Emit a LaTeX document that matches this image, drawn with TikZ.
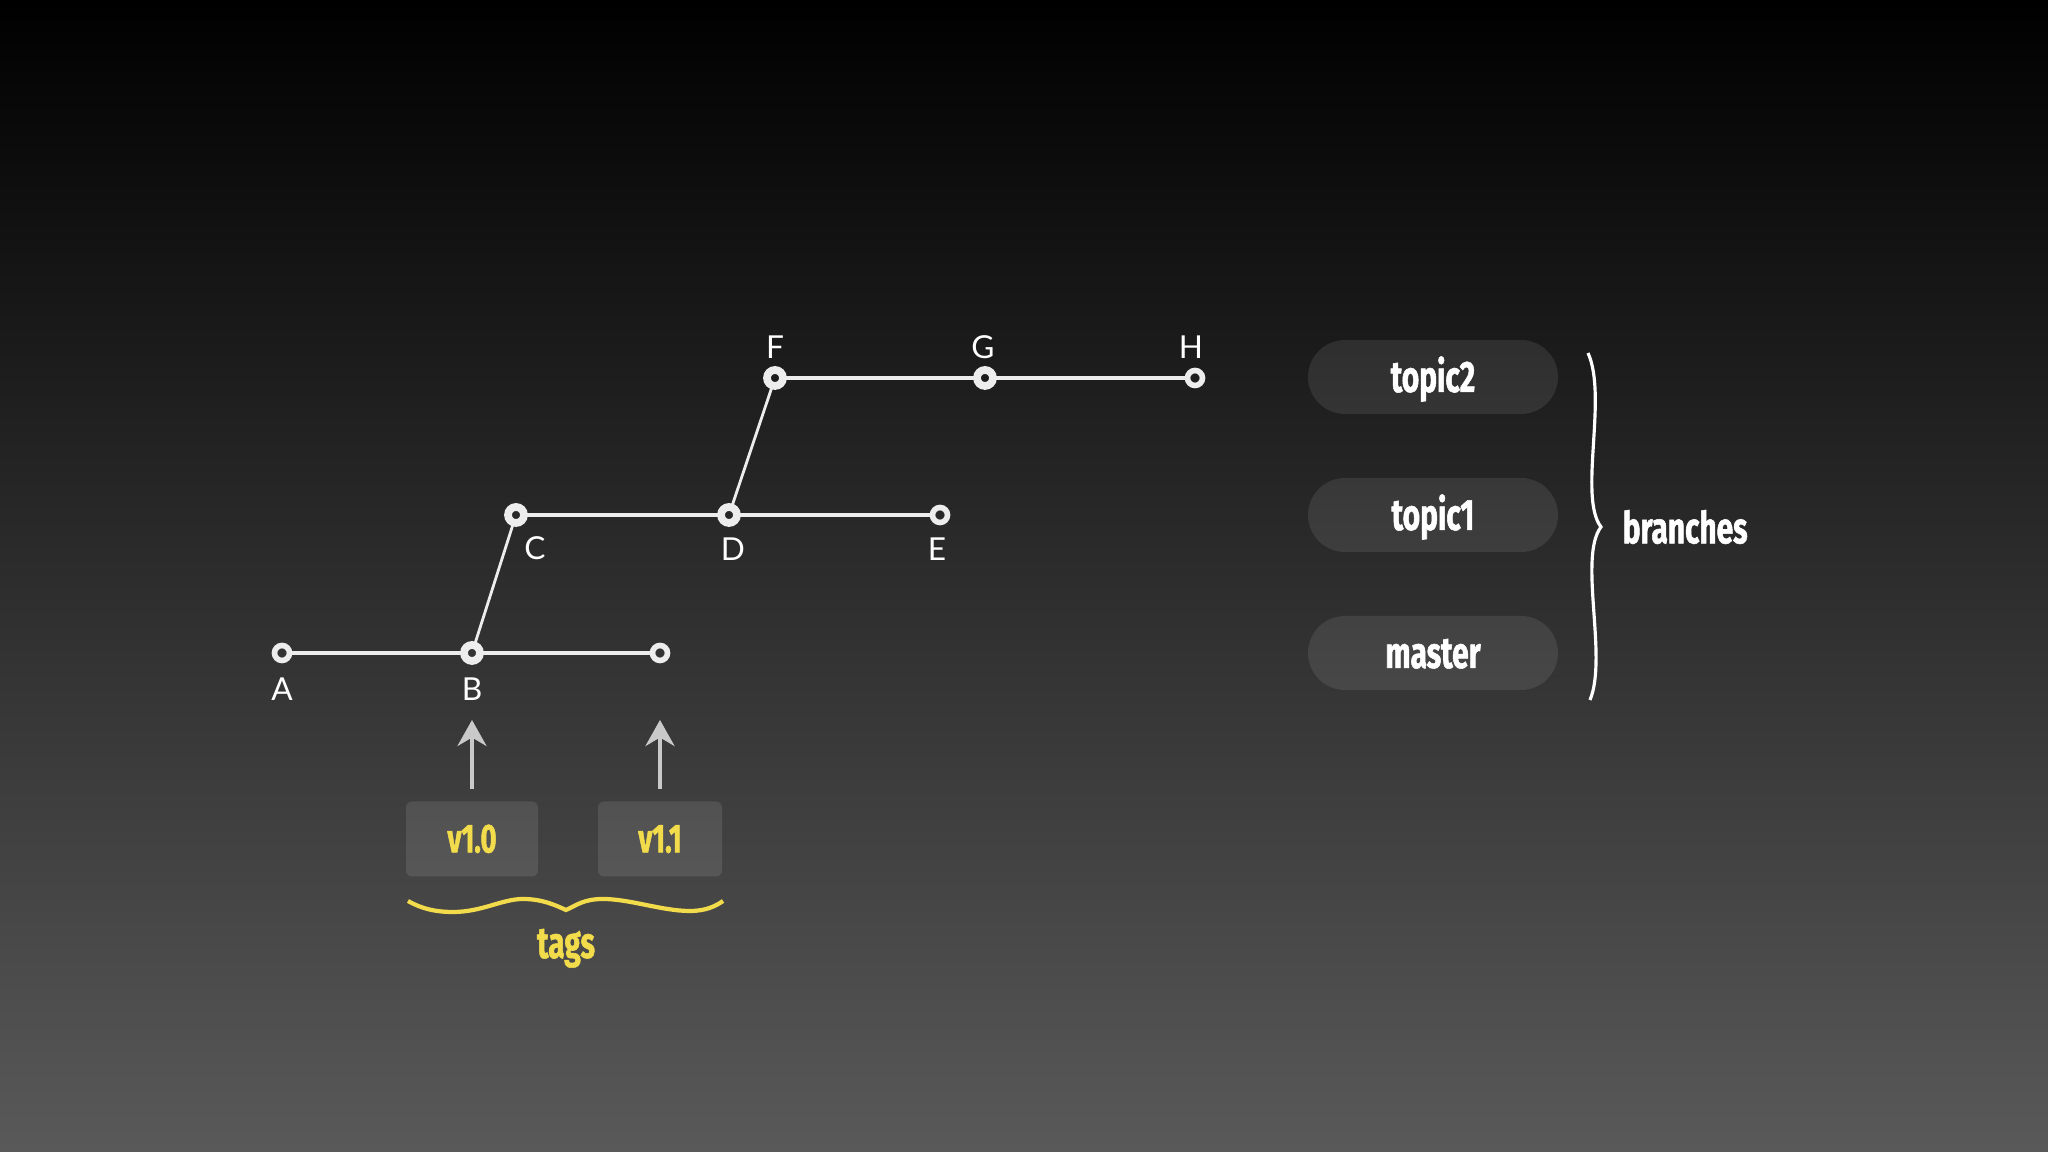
\documentclass[tikz,border=0pt]{standalone}
\usepackage{fontspec}
\setmainfont{Lato}
\newfontfamily\condfont[FakeStretch=0.68, BoldFeatures={FakeBold=1.2}]{Fira Sans}
\usetikzlibrary{positioning,arrows.meta}
\definecolor{chalk}{HTML}{EDEDED}
\definecolor{tagyellow}{HTML}{F2DC4B}
\tikzset{
  commit/.style={circle, draw=chalk, line width=1.6pt, inner sep=0pt, outer sep=0pt, minimum size=1.5mm},
  hub/.style={commit, line width=2.2pt, minimum size=1.6mm},
  edge/.style={chalk, line width=1.1pt},
  fork/.style={chalk, line width=0.8pt},
  lbl/.style={white, inner sep=0pt, text height=2.3mm, text depth=0pt, font=\fontsize{9}{10}\selectfont},
  branch/.style={rounded corners=3.7mm, fill=white, fill opacity=0.09, text opacity=1, text=white,
    minimum width=2.5cm, minimum height=7.4mm, text height=3mm, text depth=0pt,
    font=\condfont\bfseries\fontsize{12.5}{14}\selectfont},
  tagbox/.style={rounded corners=0.6mm, fill=white, fill opacity=0.1, text opacity=1, text=tagyellow,
    minimum height=7.5mm, text height=2.7mm, text depth=0pt,
    font=\condfont\bfseries\fontsize{11.5}{13}\selectfont},
  tagarrow/.style={-{Stealth[length=2.6mm, width=2.9mm]}, draw=chalk!85!black, line width=1.1pt},
  bigtext/.style={inner sep=0pt, font=\condfont\bfseries\fontsize{12.5}{14}\selectfont}
}
\begin{document}
\begin{tikzpicture}
\useasboundingbox (0,0) rectangle (20.48,11.52);
\shade[top color=black, bottom color=white!35!black] (0,0) rectangle (20.48,11.52);

\node[commit] (A) at (2.82,4.99) {};
\node[hub] (B) at (4.72,4.99) {};
\node[commit] (M) at (6.60,4.99) {};
\node[hub] (C) at (5.16,6.37) {};
\node[hub] (D) at (7.29,6.37) {};
\node[commit] (E) at (9.40,6.37) {};
\node[hub] (F) at (7.75,7.74) {};
\node[hub] (G) at (9.85,7.74) {};
\node[commit] (H) at (11.95,7.74) {};

\draw[edge] (A)--(B) (B)--(M) (C)--(D) (D)--(E) (F)--(G) (G)--(H);
\draw[fork] (B)--(C) (D)--(F);

\node[lbl, below=1.6mm of A] (lA) {A};
\node[lbl, below=1.6mm of B] (lB) {B};
\node[lbl, below right=1.5mm and 0.2mm of C] (lC) {C};
\node[lbl, below=1.4mm of D, xshift=0.4mm] (lD) {D};
\node[lbl, below=1.4mm of E, xshift=-0.3mm] (lE) {E};
\node[lbl, above=1.1mm of F] (lF) {F};
\node[lbl, above=1.1mm of G, xshift=-0.2mm] (lG) {G};
\node[lbl, above=1.1mm of H, xshift=-0.4mm] (lH) {H};

\node[tagbox, minimum width=1.32cm] (v10) at (4.72,3.13) {v1.0};
\node[tagbox, minimum width=1.24cm] (v11) at (6.60,3.13) {v1.1};
\draw[tagarrow] ([yshift=1.2mm]v10.north)--([yshift=-6.7mm]B.center);
\draw[tagarrow] ([yshift=1.2mm]v11.north)--([yshift=-6.7mm]M.center);

\coordinate (ytip) at (5.66,2.42);
\draw[tagyellow, line width=1.2pt] (4.08,2.51) .. controls (4.22,2.43) and (4.36,2.40) .. (4.53,2.40)
  .. controls (4.82,2.40) and (5.02,2.53) .. (5.23,2.53)
  .. controls (5.42,2.53) and (5.55,2.47) .. (ytip)
  .. controls (5.77,2.47) and (5.84,2.53) .. (6.03,2.53)
  .. controls (6.30,2.53) and (6.62,2.41) .. (6.90,2.41)
  .. controls (7.06,2.41) and (7.16,2.46) .. (7.23,2.51);
\node[bigtext, text=tagyellow, anchor=base] (tags) at (5.66,1.94) {tags};

\node[branch] (topic2) at (14.33,7.75) {topic2};
\node[branch] (topic1) at (14.33,6.37) {topic1};
\node[branch] (master) at (14.33,4.99) {master};

\coordinate (wtip) at (16.01,6.25);
\draw[white, line width=0.9pt] (15.88,7.99) .. controls (16.08,7.55) and (15.78,6.55) .. (wtip)
  .. controls (15.78,5.95) and (16.08,4.95) .. (15.90,4.52);
\node[bigtext, text=white, right=2.1mm of wtip] (branches) {branches};
\end{tikzpicture}
\end{document}
